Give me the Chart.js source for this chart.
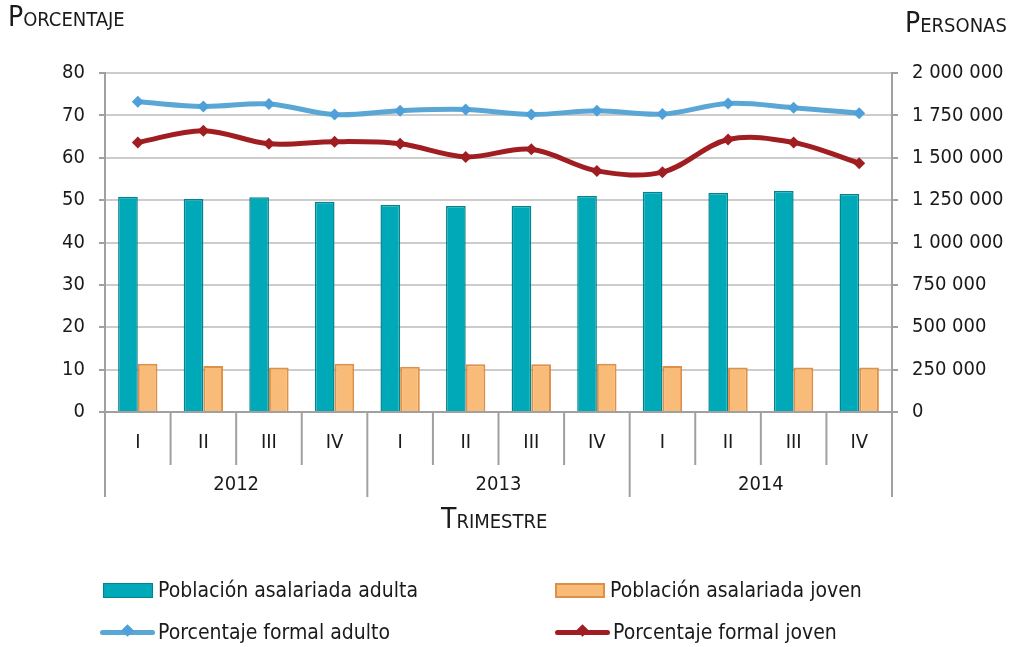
<!DOCTYPE html>
<html>
<head>
<meta charset="utf-8">
<script src="https://cdn.jsdelivr.net/npm/chart.js@4/dist/chart.umd.min.js"></script>
<style>
  html, body { margin: 0; padding: 0; background: #fff; }
  #wrap { position: relative; width: 1011px; height: 647px; font-family: "Liberation Sans Narrow", "DejaVu Sans Condensed", "Roboto", sans-serif; color: #1a1a1a; }
  #wrap canvas { position: absolute; left: 0; top: 0; }
  .ttl { position: absolute; font-size: 28px; font-variant: small-caps; white-space: nowrap; }
  .leg { position: absolute; font-size: 21px; white-space: nowrap; display: flex; align-items: center; }
  .sw { display: inline-block; box-sizing: border-box; width: 50px; height: 15px; margin-right: 5px; }
  .ln { position: relative; display: inline-block; width: 55px; height: 5px; border-radius: 3px; margin-right: 3px; }
  .ln i { position: absolute; left: 23px; top: -4px; width: 9px; height: 9px; transform: rotate(45deg); }
</style>
</head>
<body>
<div id="wrap">
  <canvas id="chart" width="1011" height="647"></canvas>
  <div class="ttl" style="left:8px; top:0px;">Porcentaje</div>
  <div class="ttl" style="left:905px; top:6px;">Personas</div>
  <div class="ttl" style="left:441px; top:502px;">Trimestre</div>
  <div class="leg" style="left:103px; top:578px;"><span class="sw" style="background:#00a9b8; border:1.5px solid #00858f;"></span>Población asalariada adulta</div>
  <div class="leg" style="left:555px; top:578px;"><span class="sw" style="background:#f8bb78; border:2px solid #e08f48;"></span>Población asalariada joven</div>
  <div class="leg" style="left:100px; top:620px;"><span class="ln" style="background:#5aa7d5;"><i style="background:#4fa0d8;"></i></span>Porcentaje formal adulto</div>
  <div class="leg" style="left:555px; top:620px;"><span class="ln" style="background:#a01d21;"><i style="background:#a01d21;"></i></span>Porcentaje formal joven</div>
</div>
<script>
// quarters and years on the two-level x axis
const quarters = ["I", "II", "III", "IV", "I", "II", "III", "IV", "I", "II", "III", "IV"];
const years = ["2012", "2013", "2014"];

// persons (right axis)
const adultWorkers = [1270000, 1257000, 1267000, 1241000, 1221000, 1215000, 1215000, 1274000, 1300000, 1292000, 1304000, 1286000];
const youngWorkers = [285000, 271000, 263000, 285000, 267000, 281000, 281000, 285000, 271000, 263000, 263000, 263000];

// percentages (left axis)
const adultFormal = [73.2, 72.1, 72.7, 70.2, 71.1, 71.4, 70.2, 71.1, 70.3, 72.8, 71.8, 70.5];
const youngFormal = [63.6, 66.4, 63.3, 63.8, 63.3, 60.2, 62.0, 56.9, 56.6, 64.3, 63.6, 58.7];

const FONT = '"Liberation Sans Narrow", "DejaVu Sans Condensed", "Roboto", sans-serif';
const TEXT = '#1a1a1a';
const AXIS = '#a0a0a0';

function spaced(n) {
  return String(n).replace(/\B(?=(\d{3})+(?!\d))/g, ' ');
}

// draws the quarter/year separators and year labels under the x axis
const yearGroups = {
  id: 'yearGroups',
  afterDraw(chart) {
    const x = chart.scales.x;
    const ctx = chart.ctx;
    const half = (x.getPixelForValue(1) - x.getPixelForValue(0)) / 2;
    const top = chart.chartArea.bottom;
    ctx.save();
    ctx.strokeStyle = AXIS;
    ctx.lineWidth = 2;
    quarters.forEach((q, i) => {
      const edge = x.getPixelForValue(i) - half;
      const long = i % 4 === 0;
      ctx.beginPath();
      ctx.moveTo(edge, top);
      ctx.lineTo(edge, top + (long ? 85 : 53));
      ctx.stroke();
    });
    const endEdge = x.getPixelForValue(quarters.length - 1) + half;
    ctx.beginPath();
    ctx.moveTo(endEdge, top);
    ctx.lineTo(endEdge, top + 85);
    ctx.stroke();

    ctx.fillStyle = TEXT;
    ctx.font = '20px ' + FONT;
    ctx.textAlign = 'center';
    ctx.textBaseline = 'middle';
    years.forEach((yr, g) => {
      const a = x.getPixelForValue(g * 4) - half;
      const b = x.getPixelForValue(g * 4 + 3) + half;
      ctx.fillText(yr, (a + b) / 2, top + 73);
    });
    ctx.restore();
  }
};

new Chart(document.getElementById('chart'), {
  data: {
    labels: quarters,
    datasets: [
      {
        type: 'line',
        label: 'Porcentaje formal adulto',
        data: adultFormal,
        yAxisID: 'y',
        borderColor: '#5aa7d5',
        backgroundColor: '#4fa0d8',
        borderWidth: 5,
        tension: 0.35,
        pointStyle: 'rectRot',
        pointRadius: 6,
        pointBorderWidth: 0,
        order: 0
      },
      {
        type: 'line',
        label: 'Porcentaje formal joven',
        data: youngFormal,
        yAxisID: 'y',
        borderColor: '#a01d21',
        backgroundColor: '#a01d21',
        borderWidth: 5,
        tension: 0.35,
        pointStyle: 'rectRot',
        pointRadius: 6,
        pointBorderWidth: 0,
        order: 0
      },
      {
        type: 'bar',
        label: 'Población asalariada adulta',
        data: adultWorkers,
        yAxisID: 'y1',
        backgroundColor: '#00a9b8',
        borderColor: '#00858f',
        borderWidth: 1.5,
        categoryPercentage: 0.6,
        barPercentage: 1.0,
        order: 1
      },
      {
        type: 'bar',
        label: 'Población asalariada joven',
        data: youngWorkers,
        yAxisID: 'y1',
        backgroundColor: '#f8bb78',
        borderColor: '#e08f48',
        borderWidth: 2,
        categoryPercentage: 0.6,
        barPercentage: 1.0,
        order: 1
      }
    ]
  },
  options: {
    responsive: false,
    animation: false,
    layout: { padding: { top: 73, bottom: 145, left: 0, right: 0 } },
    plugins: {
      legend: { display: false },
      tooltip: { enabled: false }
    },
    scales: {
      x: {
        offset: true,
        grid: { display: false },
        border: { color: AXIS, width: 2 },
        ticks: { color: TEXT, font: { family: FONT, size: 20 }, padding: 11, maxRotation: 0 },
        afterFit(scale) { scale.height = 90; }
      },
      y: {
        position: 'left',
        min: 0,
        max: 80,
        ticks: { stepSize: 10, color: TEXT, font: { family: FONT, size: 20 }, padding: 14 },
        grid: { color: '#cccccc', lineWidth: 2, tickLength: 6, tickColor: AXIS },
        border: { color: AXIS, width: 2 },
        afterFit(scale) { scale.width = 105; }
      },
      y1: {
        position: 'right',
        min: 0,
        max: 2000000,
        ticks: {
          stepSize: 250000,
          color: TEXT,
          font: { family: FONT, size: 20 },
          padding: 14,
          callback: v => spaced(v)
        },
        grid: { drawOnChartArea: false, tickLength: 6, tickColor: AXIS, lineWidth: 2 },
        border: { color: AXIS, width: 2 },
        afterFit(scale) { scale.width = 119; }
      }
    }
  },
  plugins: [yearGroups]
});
</script>
</body>
</html>
